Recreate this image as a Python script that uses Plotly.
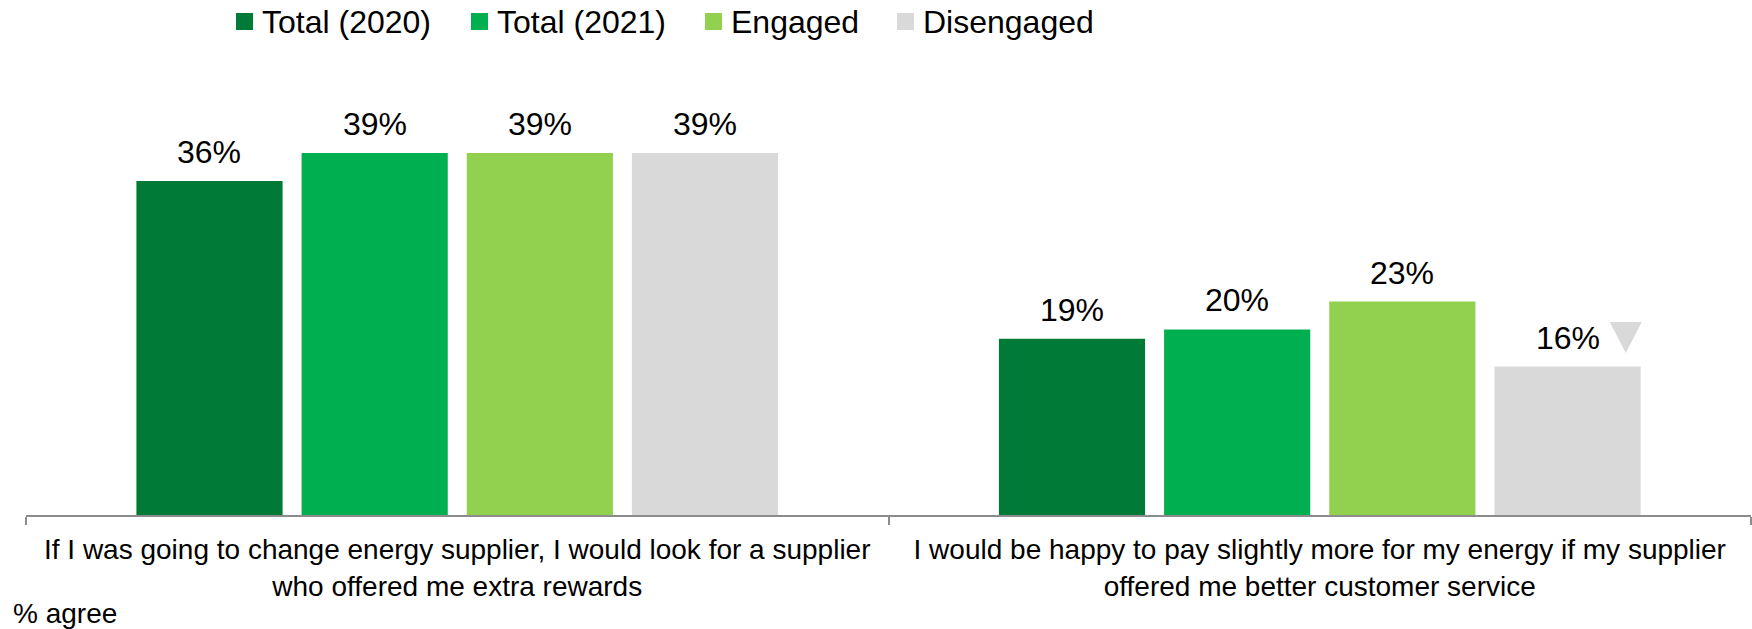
import plotly.graph_objects as go

categories = [
    "If I was going to change energy supplier, I would look for a supplier<br>who offered me extra rewards",
    "I would be happy to pay slightly more for my energy if my supplier<br>offered me better customer service",
]
series_names = ["Total (2020)", "Total (2021)", "Engaged", "Disengaged"]
total_2020 = [36, 19]
total_2021 = [39, 20]
engaged = [39, 23]
disengaged = [39, 16]
series_values = [total_2020, total_2021, engaged, disengaged]
colors = ["#007A37", "#00B050", "#92D050", "#D9D9D9"]

FONT = "Liberation Sans, Arial, sans-serif"
W, H = 1752, 629
ML, MR, MT, MB = 26, 1, 60, 114
plot_w = W - ML - MR
plot_h = H - MT - MB
px_per_unit = 9.28
ymax = plot_h / px_per_unit
BARGAP, BARGROUPGAP = 0.234, 0.115

fig = go.Figure()
for name, vals, col in zip(series_names, series_values, colors):
    fig.add_trace(go.Bar(
        x=categories, y=vals, name=name,
        marker=dict(color=col, line=dict(width=0)),
        cliponaxis=False, showlegend=False,
    ))

def px2paper_x(px):
    return (px - ML) / plot_w
def py2paper_y(py):
    return (H - MB - py) / plot_h

shapes = []
annotations = []

# value labels above each bar
cat_px = plot_w / len(categories)
pitch = cat_px * (1 - BARGAP) / len(series_names)
n = len(series_names)
for i, vals in enumerate(series_values):
    for cat, v in zip(categories, vals):
        annotations.append(dict(
            text=f"{v}%", xref="x", yref="y", x=cat, y=v,
            xshift=(i - (n - 1) / 2) * pitch, yshift=29,
            xanchor="center", yanchor="middle", showarrow=False,
            font=dict(size=32, color="black", family=FONT)))

# manual legend (square + label)
legend_sq_px = [236, 471, 705, 897]
for name, col, sx in zip(series_names, colors, legend_sq_px):
    shapes.append(dict(type="rect", xref="paper", yref="paper",
                       x0=px2paper_x(sx), x1=px2paper_x(sx + 17),
                       y0=py2paper_y(30), y1=py2paper_y(13),
                       fillcolor=col, line=dict(width=0)))
    annotations.append(dict(text=name, xref="paper", yref="paper",
                            x=px2paper_x(sx + 24), y=py2paper_y(22),
                            xanchor="left", yanchor="middle", showarrow=False,
                            font=dict(size=32, color="black", family=FONT)))

# down-triangle significance marker next to Disengaged bar of 2nd category
shapes.append(dict(type="path", xref="x", yref="y",
                   xsizemode="pixel", ysizemode="pixel",
                   xanchor=categories[1], yanchor=disengaged[1],
                   path="M 290,44.5 L 322,44.5 L 306,13.5 Z",
                   fillcolor="#D9D9D9", line=dict(width=0)))

annotations.append(dict(text="% agree", xref="paper", yref="paper",
                        x=px2paper_x(11), y=py2paper_y(613),
                        xanchor="left", yanchor="middle", showarrow=False,
                        font=dict(size=28, color="black", family=FONT)))

fig.update_layout(
    width=W, height=H,
    margin=dict(l=ML, r=MR, t=MT, b=MB),
    barmode="group", bargap=BARGAP, bargroupgap=BARGROUPGAP,
    plot_bgcolor="white", paper_bgcolor="white",
    font=dict(family=FONT, color="black"),
    shapes=shapes, annotations=annotations,
    showlegend=False,
    xaxis=dict(showline=True, linecolor="#8C8C8C", linewidth=1.5,
               ticks="outside", tickson="boundaries", ticklen=8,
               tickcolor="#8C8C8C", tickwidth=1.5, ticklabelstandoff=9,
               tickfont=dict(size=28, color="black", family=FONT),
               showgrid=False, zeroline=False),
    yaxis=dict(visible=False, range=[0, ymax], showgrid=False, zeroline=False),
)

fig.write_html("out.html")
